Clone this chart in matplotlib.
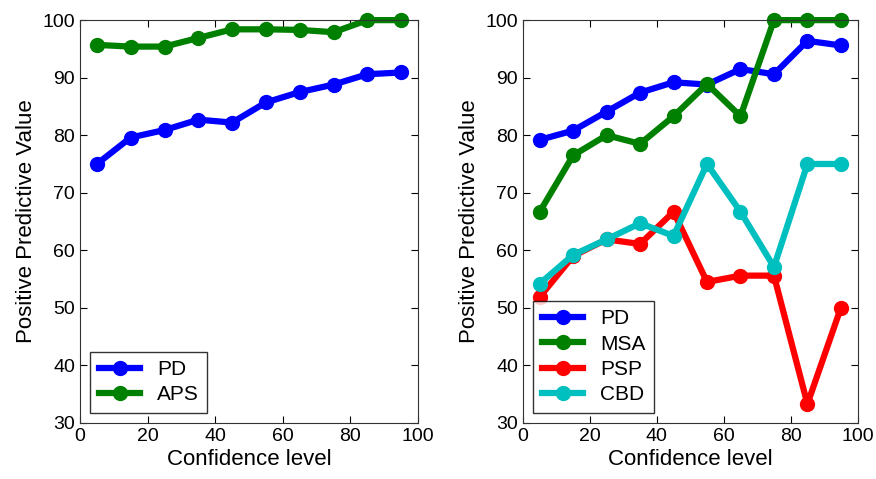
import matplotlib.pyplot as plt

plt.rcParams['font.family'] = ['Liberation Sans', 'DejaVu Sans']

conf = [5, 15, 25, 35, 45, 55, 65, 75, 85, 95]

# left panel
left_pd = [75.0, 79.6, 80.9, 82.7, 82.2, 85.7, 87.5, 88.8, 90.6, 90.9]
left_aps = [95.7, 95.4, 95.4, 96.9, 98.4, 98.4, 98.3, 97.9, 100, 100]

# right panel
right_pd = [79.2, 80.8, 84.1, 87.4, 89.2, 88.8, 91.5, 90.6, 96.4, 95.6]
right_msa = [66.7, 76.5, 80.0, 78.5, 83.3, 88.9, 83.3, 100, 100, 100]
right_psp = [51.9, 59.0, 61.9, 61.1, 66.7, 54.5, 55.6, 55.6, 33.3, 50.0]
right_cbd = [54.2, 59.2, 61.9, 64.7, 62.5, 75.0, 66.7, 57.1, 75.0, 75.0]

fig = plt.figure(figsize=(8.76, 4.79), dpi=100)
ax1 = fig.add_axes([0.0913, 0.117, 0.386, 0.841])
ax2 = fig.add_axes([0.597, 0.117, 0.382, 0.841])

style = dict(lw=4.5, marker='o', ms=10, clip_on=False)

ax1.plot(conf, left_pd, color='#0000ff', label='PD', **style)
ax1.plot(conf, left_aps, color='#008000', label='APS', **style)

ax2.plot(conf, right_pd, color='#0000ff', label='PD', **style)
ax2.plot(conf, right_msa, color='#008000', label='MSA', **style)
ax2.plot(conf, right_psp, color='#ff0000', label='PSP', **style)
ax2.plot(conf, right_cbd, color='#00bfbf', label='CBD', **style)

for ax in (ax1, ax2):
    ax.set_xlim(0, 100)
    ax.set_ylim(30, 100)
    ax.set_xticks(range(0, 101, 20))
    ax.set_yticks(range(30, 101, 10))
    ax.tick_params(direction='in', top=True, right=True, labelsize=14, length=5)
    for s in ax.spines.values():
        s.set_color('#333333')
    ax.set_xlabel('Confidence level', fontsize=16, labelpad=3)
    ax.set_ylabel('Positive Predictive Value', fontsize=16)
    leg = ax.legend(loc='lower left', fontsize=15, frameon=True, fancybox=False,
                    handlelength=2.0, borderaxespad=0.5, labelspacing=0.3)
    leg.get_frame().set_edgecolor('black')
    leg.get_frame().set_linewidth(1.0)

fig.savefig('out.png', dpi=100)
